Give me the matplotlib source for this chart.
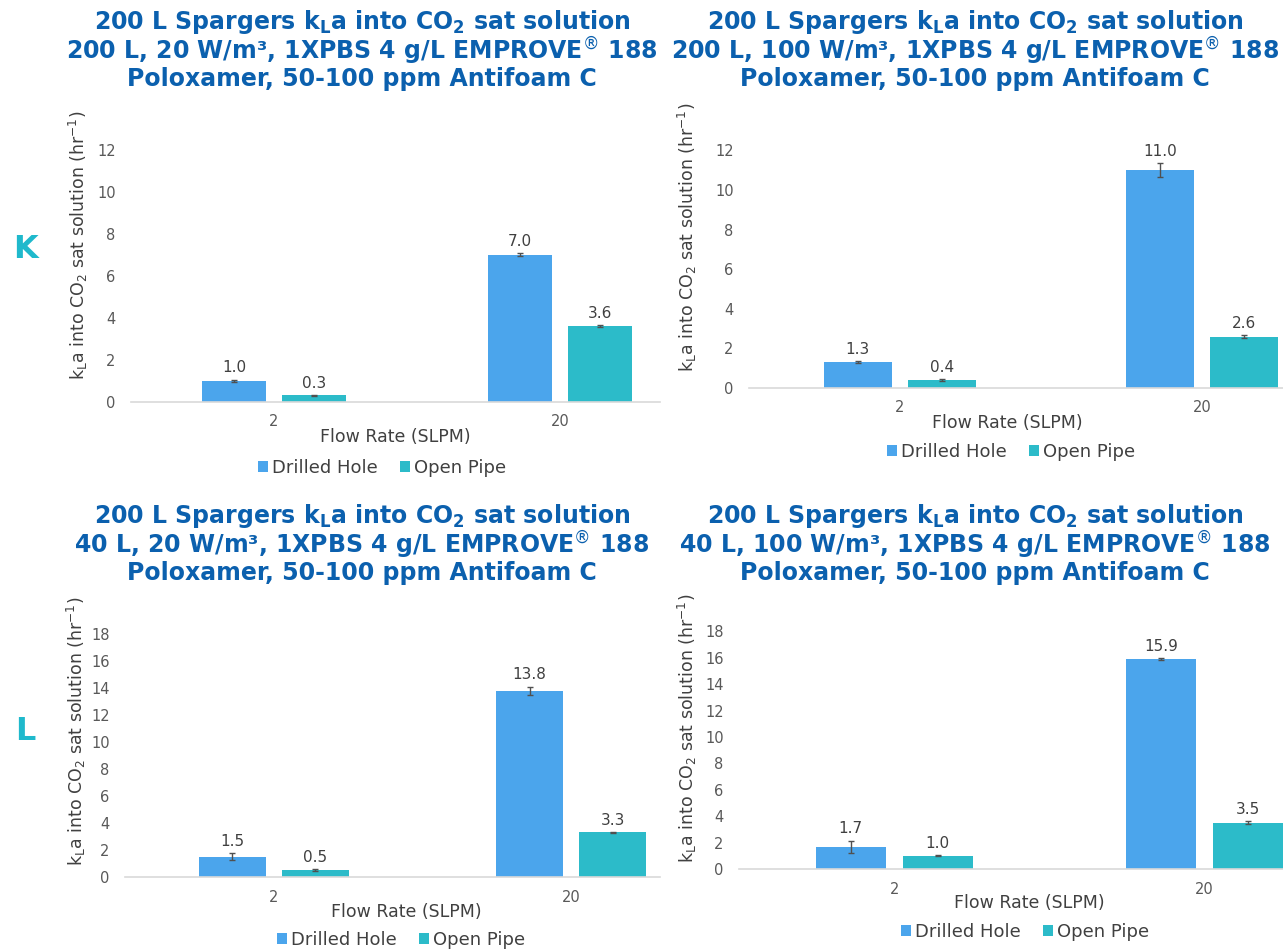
import matplotlib
matplotlib.use("Agg")
import matplotlib.pyplot as plt
from matplotlib.patches import Patch

# ---------------- data ----------------
categories = ["2", "20"]
series_names = ["Drilled Hole", "Open Pipe"]

k_drilled = [1.0, 7.0]
k_open = [0.3, 3.6]
k_drilled_err = [0.05, 0.08]
k_open_err = [0.03, 0.05]

tr_drilled = [1.3, 11.0]
tr_open = [0.4, 2.6]
tr_drilled_err = [0.05, 0.35]
tr_open_err = [0.05, 0.08]

l_drilled = [1.5, 13.8]
l_open = [0.5, 3.3]
l_drilled_err = [0.25, 0.3]
l_open_err = [0.08, 0.05]

br_drilled = [1.7, 15.9]
br_open = [1.0, 3.5]
br_drilled_err = [0.45, 0.1]
br_open_err = [0.05, 0.1]

title_line1 = "200 L Spargers k$_\\mathbf{L}$a into CO$_\\mathbf{2}$ sat solution"
title_line2 = ["200 L, 20 W/m³, 1XPBS 4 g/L EMPROVE$^{\\circledR}$ 188",
               "200 L, 100 W/m³, 1XPBS 4 g/L EMPROVE$^{\\circledR}$ 188",
               "40 L, 20 W/m³, 1XPBS 4 g/L EMPROVE$^{\\circledR}$ 188",
               "40 L, 100 W/m³, 1XPBS 4 g/L EMPROVE$^{\\circledR}$ 188"]
title_line3 = "Poloxamer, 50-100 ppm Antifoam C"
y_ticks_top = [0, 2, 4, 6, 8, 10, 12]
y_ticks_bottom = [0, 2, 4, 6, 8, 10, 12, 14, 16, 18]
xlabel = "Flow Rate (SLPM)"
ylabel = "k$_\\mathregular{L}$a into CO$_\\mathregular{2}$ sat solution (hr$^{\\mathregular{-1}}$)"
panel_letters = ["K", "L"]

# ---------------- style ----------------
W, H = 1283, 949
C_DRILLED = "#4ba5ec"
C_OPEN = "#2cbbc9"
C_TITLE = "#0b60ae"
C_LETTER = "#1fb9cc"
C_TICK = "#595959"
C_TEXT = "#404040"

fig = plt.figure(figsize=(W / 100, H / 100), dpi=100)
fig.patch.set_facecolor("white")


def fx(x):
    return x / W


def fy(y):
    return 1 - y / H


# layout per panel (pixel measurements)
panels = [
    dict(drilled=k_drilled, open=k_open, de=k_drilled_err, oe=k_open_err,
         left=131, spacing=286, right=660, y0=401.7, ppu=21.0, ytop=13.3,
         yticks=y_ticks_top, tcx=362, ty=(22, 51, 79), l2=title_line2[0],
         ylx=78, yly=245, xly=437, xlx=395, legx=382, legy=468),
    dict(drilled=tr_drilled, open=tr_open, de=tr_drilled_err, oe=tr_open_err,
         left=749, spacing=302, right=1283, y0=388, ppu=19.8, ytop=13.3,
         yticks=y_ticks_top, tcx=975, ty=(22, 51, 79), l2=title_line2[1],
         ylx=687, yly=237, xly=423, xlx=1007, legx=1011, legy=452),
    dict(drilled=l_drilled, open=l_open, de=l_drilled_err, oe=l_open_err,
         left=125, spacing=297.5, right=660, y0=877, ppu=13.5, ytop=19.5,
         yticks=y_ticks_bottom, tcx=362, ty=(516, 545, 573), l2=title_line2[2],
         ylx=76, yly=731, xly=912, xlx=406, legx=401, legy=940),
    dict(drilled=br_drilled, open=br_open, de=br_drilled_err, oe=br_open_err,
         left=739, spacing=310.5, right=1283, y0=869, ppu=13.2, ytop=19.5,
         yticks=y_ticks_bottom, tcx=975, ty=(516, 545, 573), l2=title_line2[3],
         ylx=687, yly=728, xly=903, xlx=1029, legx=1025, legy=932),
]

width = 0.225
off = 0.14

for p in panels:
    top_px = p["y0"] - p["ytop"] * p["ppu"]
    ax = fig.add_axes([fx(p["left"]), fy(p["y0"]),
                       (p["right"] - p["left"]) / W, (p["y0"] - top_px) / H])
    ax.set_facecolor("none")
    xr = -0.5 + (p["right"] - p["left"]) / p["spacing"]
    ax.set_xlim(-0.5, xr)
    ax.set_ylim(0, p["ytop"])
    xs = list(range(len(categories)))
    xd = [x - off for x in xs]
    xo = [x + off for x in xs]
    ax.bar(xd, p["drilled"], width, color=C_DRILLED, zorder=2)
    ax.bar(xo, p["open"], width, color=C_OPEN, zorder=2)
    ax.errorbar(xd, p["drilled"], yerr=p["de"], fmt="none", ecolor="#505050",
                elinewidth=1, capsize=2.5, capthick=1, zorder=3)
    ax.errorbar(xo, p["open"], yerr=p["oe"], fmt="none", ecolor="#505050",
                elinewidth=1, capsize=2.5, capthick=1, zorder=3)
    for xx, vv, ee in list(zip(xd, p["drilled"], p["de"])) + list(zip(xo, p["open"], p["oe"])):
        ax.annotate(f"{vv:.1f}", (xx, vv + ee), xytext=(0, 3),
                    textcoords="offset points", ha="center", va="bottom",
                    fontsize=11, color=C_TEXT)
    for s in ["top", "right", "left"]:
        ax.spines[s].set_visible(False)
    ax.spines["bottom"].set_color("#d9d9d9")
    ax.spines["bottom"].set_linewidth(1.2)
    ax.set_yticks(p["yticks"])
    ax.set_yticklabels([str(t) for t in p["yticks"]])
    ax.set_xticks(xs)
    ax.set_xticklabels(categories)
    ax.tick_params(axis="both", length=0, labelsize=10.5, colors=C_TICK)
    ax.tick_params(axis="y", pad=11)
    ax.tick_params(axis="x", pad=9)

    # titles
    for t, yy in zip([title_line1, p["l2"], title_line3], p["ty"]):
        fig.text(fx(p["tcx"]), fy(yy), t, ha="center", va="center",
                 fontsize=17, fontweight="bold", color=C_TITLE)
    # axis titles
    fig.text(fx(p["ylx"]), fy(p["yly"]), ylabel, rotation=90, ha="center",
             va="center", fontsize=12.5, color=C_TEXT)
    fig.text(fx(p["xlx"]), fy(p["xly"]), xlabel, ha="center", va="center",
             fontsize=12.5, color=C_TEXT)
    handles = [Patch(facecolor=C_DRILLED, label=series_names[0]),
               Patch(facecolor=C_OPEN, label=series_names[1])]
    fig.legend(handles=handles, loc="center",
               bbox_to_anchor=(fx(p["legx"]), fy(p["legy"])),
               ncol=2, frameon=False, fontsize=13, handlelength=0.55,
               handleheight=0.55, handletextpad=0.25, columnspacing=1.2,
               labelcolor=C_TEXT, borderpad=0, borderaxespad=0)

fig.text(fx(25), fy(249), panel_letters[0], ha="center", va="center",
         fontsize=23, fontweight="bold", color=C_LETTER)
fig.text(fx(25), fy(731), panel_letters[1], ha="center", va="center",
         fontsize=23, fontweight="bold", color=C_LETTER)

fig.savefig("out.png", dpi=100, facecolor="white")
